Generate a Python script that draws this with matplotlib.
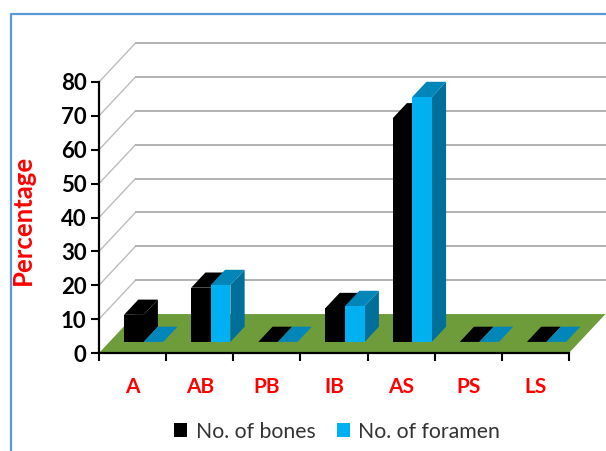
import matplotlib
matplotlib.use("Agg")
import matplotlib.pyplot as plt
from matplotlib.lines import Line2D
from matplotlib.patches import Polygon, Patch

categories = ["A", "AB", "PB", "IB", "AS", "PS", "LS"]
bones = [8, 16, 0, 10, 66, 0, 0]
foramen = [0, 16.8, 0, 10.6, 72.3, 0, 0]
y_ticks = [0, 10, 20, 30, 40, 50, 60, 70, 80]

BONES_COLORS = ("#000000", "#000000", "#000000")
FORAMEN_COLORS = ("#00B0F0", "#0086B8", "#00709A")  # front, top, side
FLOOR = "#6F9C3B"
GRID = "#ABABAB"
RED = "#FF0000"
FONT = "Lato"

W, H = 606, 451
# oblique projection of the chart depth, in data units
DEPTH_X = 0.544
DEPTH_Y = 11.5
BAR_WIDTH = 0.292
BAR_FRONT = 0.285
BAR_DEPTH = 0.39


def project(x, v, d):
    return (x + d * DEPTH_X, v + d * DEPTH_Y)


def draw_bar(ax, left, value, colors):
    front, top, side = colors
    right = left + BAR_WIDTH
    d0, d1 = BAR_FRONT, BAR_FRONT + BAR_DEPTH
    faces = []
    if value > 0:
        faces.append(([project(right, 0, d0), project(right, 0, d1),
                       project(right, value, d1), project(right, value, d0)], side))
        faces.append(([project(left, 0, d0), project(right, 0, d0),
                       project(right, value, d0), project(left, value, d0)], front))
    faces.append(([project(left, value, d0), project(right, value, d0),
                   project(right, value, d1), project(left, value, d1)], top))
    for pts, color in faces:
        ax.add_patch(Polygon(pts, closed=True, facecolor=color, edgecolor="none",
                             clip_on=False, zorder=3))


fig = plt.figure(figsize=(W / 100, H / 100), dpi=100, facecolor="white")
ax = fig.add_axes([99 / W, 1 - 353 / H, (569 - 99) / W, (353 - 82) / H])
ax.set_xlim(0, len(categories))
ax.set_ylim(0, 80)
ax.patch.set_visible(False)

# back wall gridlines with their diagonal run along the side wall
for v in y_ticks[1:]:
    p0 = project(0, v, 0)
    p1 = project(0, v, 1)
    p2 = project(len(categories), v, 1)
    ax.plot([p0[0], p1[0]], [p0[1], p1[1]], color="#BDBDBD", lw=1.0, clip_on=False, zorder=1)
    ax.plot([p1[0], p2[0]], [p1[1], p2[1]], color=GRID, lw=1.3, clip_on=False, zorder=1)

# floor
n = len(categories)
ax.add_patch(Polygon([project(0, 0, 0), project(n, 0, 0), project(n, 0, 1), project(0, 0, 1)],
                     closed=True, facecolor=FLOOR, edgecolor="none", clip_on=False, zorder=1.5))

# bars
for i in range(n):
    center = i + 0.5
    draw_bar(ax, center - BAR_WIDTH + 0.01, bones[i], BONES_COLORS)
    draw_bar(ax, center + 0.01, foramen[i], FORAMEN_COLORS)

for s in ("top", "right"):
    ax.spines[s].set_visible(False)
for s in ("left", "bottom"):
    ax.spines[s].set_linewidth(1.6)
    ax.spines[s].set_color("black")

ax.set_yticks(y_ticks)
ax.set_yticklabels([str(v) for v in y_ticks], fontfamily=FONT, fontweight="bold",
                   fontsize=16, color="black")
ax.tick_params(axis="y", length=6, width=1.5, pad=3)
ax.set_xticks(range(n + 1))
ax.set_xticklabels([])
ax.tick_params(axis="x", which="major", length=6, width=1.5)
ax.set_xticks([i + 0.5 for i in range(n)], minor=True)
ax.set_xticklabels(categories, minor=True, fontfamily=FONT, fontweight="bold",
                   fontsize=15, color=RED)
ax.tick_params(axis="x", which="minor", length=0, pad=17.5)

fig.text(23 / W, 1 - 220 / H, "Percentage", rotation=90, ha="center", va="center",
         fontfamily=FONT, fontweight="bold", fontsize=18.5, color=RED)

legend = fig.legend(
    handles=[Patch(facecolor="#000000", label="No. of bones"),
             Patch(facecolor="#00B0F0", label="No. of foramen")],
    loc="center", bbox_to_anchor=(337 / W, 1 - 431.5 / H), ncol=2, frameon=False,
    prop={"family": FONT, "size": 15.3}, labelcolor="#333333",
    handlelength=0.62, handleheight=0.62, handletextpad=0.4, columnspacing=1.0,
    borderpad=0, borderaxespad=0)

# outer frame: only its left and top edges fall inside the canvas
fig.add_artist(Line2D([11 / W, 11 / W, 1], [0, 1 - 13.5 / H, 1 - 13.5 / H],
                      transform=fig.transFigure, color="#5B9BD5", lw=1.6))

fig.savefig("out.png", dpi=100, facecolor="white")
